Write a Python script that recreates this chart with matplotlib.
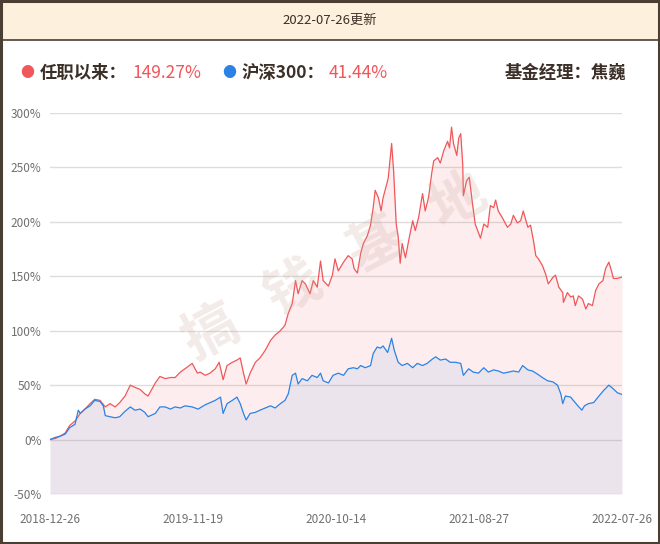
import matplotlib
matplotlib.use("Agg")
import matplotlib.pyplot as plt
from matplotlib.patches import Rectangle

plt.rcParams['font.family'] = ['Noto Sans CJK SC', 'DejaVu Sans']

update_date = "2022-07-26更新"
fund_label = "任职以来："
fund_total = "149.27%"
index_label = "沪深300："
index_total = "41.44%"
manager = "基金经理：焦巍"
watermark = "搞   钱   基   地"

n_days = 869
tick_days = [0, 217, 434, 651, 869]
tick_labels = ["2018-12-26", "2019-11-19", "2020-10-14", "2021-08-27", "2022-07-26"]
y_ticks = [-50, 0, 50, 100, 150, 200, 250, 300]

# fund return since manager took office (%), by trading day
fund_days = [0, 8, 15, 23, 30, 38, 46, 53, 61, 68, 76, 84, 91, 99, 106, 114, 122, 129,
             137, 144, 149, 160, 167, 175, 183, 190, 198, 205, 216, 224, 228, 236, 243,
             251, 257, 263, 269, 277, 284, 289, 294, 298, 304, 312, 319, 327, 335, 342,
             350, 357, 362, 368, 373, 377, 383, 388, 395, 400, 406, 411, 415, 423, 429,
             433, 438, 446, 453, 459, 462, 467, 472, 476, 482, 487, 491, 494, 499, 503,
             506, 513, 514, 519, 522, 526, 529, 532, 535, 540, 545, 551, 555, 560, 566,
             570, 575, 580, 583, 589, 593, 598, 604, 607, 610, 613, 618, 621, 624, 627,
             628, 633, 637, 642, 646, 654, 659, 665, 669, 674, 677, 681, 687, 695, 700,
             704, 710, 715, 719, 726, 730, 735, 738, 742, 748, 753, 757, 764, 768, 773,
             779, 780, 786, 791, 795, 798, 803, 809, 814, 818, 824, 829, 834, 840, 844,
             849, 853, 856, 862, 869]
fund_ret = [0, 1, 3, 6, 13, 17, 24, 28, 33, 37, 36, 30, 33, 30, 34, 40, 50, 48,
            46, 42, 40, 52, 58, 56, 57, 57, 62, 65, 70, 61, 62, 59, 61,
            65, 71, 55, 68, 71, 73, 75, 61, 51, 61, 71, 75, 82, 91, 96,
            100, 105, 116, 125, 146, 134, 146, 143, 134, 146, 140, 164, 146, 141, 151,
            166, 155, 163, 169, 166, 157, 153, 171, 180, 187, 197, 213, 229, 222, 210,
            222, 238, 241, 272, 247, 198, 186, 162, 180, 167, 183, 201, 192, 204, 226,
            210, 222, 245, 256, 259, 254, 265, 274, 268, 287, 272, 261, 277, 281, 253,
            224, 238, 241, 216, 198, 185, 198, 195, 215, 213, 220, 210, 204, 195, 198,
            206, 199, 201, 210, 195, 197, 181, 169, 166, 160, 152, 143, 149, 151, 140,
            135, 126, 135, 131, 132, 123, 132, 129, 120, 125, 123, 137, 143, 146, 157,
            163, 155, 148, 148, 149.27]

# CSI 300 return over the same period (%)
index_days = [0, 8, 15, 23, 30, 38, 43, 46, 53, 61, 68, 76, 81, 84, 91, 99, 106, 114,
              122, 129, 137, 144, 149, 160, 167, 175, 183, 190, 198, 205, 216, 225, 236,
              251, 259, 263, 269, 277, 284, 289, 294, 298, 304, 312, 319, 327, 335, 342,
              350, 357, 362, 368, 373, 377, 383, 391, 398, 406, 411, 415, 423, 430, 438,
              446, 453, 461, 467, 472, 479, 487, 491, 497, 502, 506, 513, 519, 523, 529,
              535, 543, 551, 558, 566, 573, 581, 586, 593, 601, 608, 616, 624, 628, 636,
              643, 651, 659, 666, 674, 681, 689, 697, 704, 712, 718, 726, 733, 741, 748,
              756, 764, 771, 776, 779, 783, 791, 795, 802, 808, 812, 818, 826, 834, 841,
              849, 855, 862, 869]
index_ret = [0, 2, 3, 5, 11, 14, 27, 24, 28, 31, 36, 35, 31, 22, 21, 20, 21, 26,
             30, 27, 28, 25, 21, 24, 30, 30, 28, 30, 29, 31, 30, 28, 32,
             36, 39, 24, 33, 36, 39, 33, 24, 18, 24, 25, 27, 29, 31, 29,
             33, 36, 42, 59, 61, 51, 56, 54, 59, 57, 61, 54, 52, 59, 61,
             59, 65, 66, 65, 68, 66, 68, 79, 85, 84, 86, 80, 93, 82, 71,
             68, 70, 66, 70, 68, 70, 74, 76, 73, 74, 71, 71, 70, 59, 65,
             62, 61, 66, 62, 64, 63, 61, 62, 63, 62, 68, 64, 63, 60, 57,
             54, 53, 50, 42, 33, 40, 39, 36, 31, 27, 31, 33, 34, 40, 45,
             50, 47, 43, 41.44]

red = '#f0565a'
blue = '#2a82e4'
dark = '#3b2f27'
frame = '#4b3e33'

fig = plt.figure(figsize=(6.6, 5.44), dpi=100)

# header band and outer frame
fig.patches.append(Rectangle((0, 1 - 40 / 544), 1, 40 / 544, transform=fig.transFigure,
                             facecolor='#fdf0dc', edgecolor='none', zorder=0))
fig.add_artist(plt.Line2D([0, 1], [1 - 40 / 544] * 2, transform=fig.transFigure,
                          color=frame, lw=1.2))
fig.patches.append(Rectangle((0.001, 0.001), 0.997, 0.997, transform=fig.transFigure,
                             facecolor='none', edgecolor=frame, lw=2.2, zorder=5))
fig.text(0.5, 1 - 20 / 544, update_date, ha='center', va='center', fontsize=9.5, color=dark)

# legend row
ly = 1 - 73 / 544
fig.text(27 / 660, ly, "●", color=red, fontsize=10, ha='center', va='center')
fig.text(40 / 660, ly, fund_label, color=dark, fontsize=12.5, fontweight='bold', va='center')
fig.text(133 / 660, ly, fund_total, color=red, fontsize=12.5, va='center')
fig.text(229 / 660, ly, "●", color=blue, fontsize=10, ha='center', va='center')
fig.text(242 / 660, ly, index_label, color=dark, fontsize=12.5, fontweight='bold', va='center')
fig.text(329 / 660, ly, index_total, color=red, fontsize=12.5, va='center')
fig.text(626 / 660, ly, manager, color=dark, fontsize=12.5, fontweight='bold',
         ha='right', va='center')

ax = fig.add_axes([50 / 660, 50 / 544, 572 / 660, 381 / 544])
ax.fill_between(fund_days, fund_ret, -50, color=red, alpha=0.1, lw=0)
ax.fill_between(index_days, index_ret, -50, color=blue, alpha=0.08, lw=0)
ax.plot(fund_days, fund_ret, color=red, lw=0.9)
ax.plot(index_days, index_ret, color=blue, lw=0.9)

ax.set_xlim(0, n_days)
ax.set_ylim(-50, 300)
ax.set_yticks(y_ticks)
ax.set_yticklabels([f"{v}%" for v in y_ticks])
ax.set_xticks(tick_days)
ax.set_xticklabels(tick_labels)
ax.grid(axis='y', color='#dddddd', lw=1)
ax.set_axisbelow(True)
for s in ax.spines.values():
    s.set_visible(False)
ax.tick_params(axis='both', length=0, labelsize=8.5, labelcolor='#707070')
ax.tick_params(axis='y', pad=6)
ax.tick_params(axis='x', pad=14)

fig.text(335 / 660, 1 - 268 / 544, watermark, fontsize=40, color='#c9a597', alpha=0.22,
         rotation=28, ha='center', va='center', fontweight='bold')

fig.savefig("out.png", dpi=100)
